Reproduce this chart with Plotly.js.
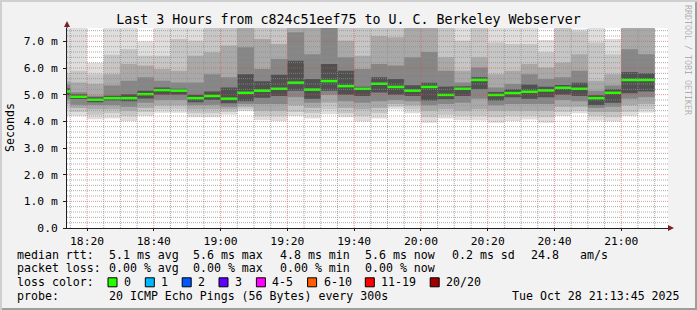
<!DOCTYPE html>
<html><head><meta charset="utf-8">
<script src="https://cdn.plot.ly/plotly-3.0.1.min.js"></script>
<style>html,body{margin:0;padding:0;background:#f2f2f2;}#chart{width:697px;height:310px;}</style>
</head><body><div id="chart"></div>
<script>
// ---------------- data ----------------
const binStarts = ["18:10","18:15","18:20","18:25","18:30","18:35","18:40","18:45","18:50","18:55",
  "19:00","19:05","19:10","19:15","19:20","19:25","19:30","19:35","19:40","19:45",
  "19:50","19:55","20:00","20:05","20:10","20:15","20:20","20:25","20:30","20:35",
  "20:40","20:45","20:50","20:55","21:00","21:05"];
const medianRtt = [5.12,4.92,4.81,4.87,4.87,5.02,5.17,5.15,4.87,4.95,4.85,5.07,5.15,5.22,5.45,5.19,5.51,5.32,
  5.22,5.41,5.29,5.15,5.29,4.99,5.22,5.55,4.99,5.06,5.11,5.16,5.26,5.22,4.87,5.07,5.55,5.55];
// smoke bands, outermost (min..max) to innermost (around the median), ms
const band1Lo = [4.22,4.20,4.08,4.11,4.01,4.20,4.32,4.32,4.15,4.15,4.25,4.39,4.05,4.01,4.20,4.11,4.27,4.15,3.99,4.11,4.45,4.30,3.95,4.11,4.05,4.03,3.95,4.01,4.07,3.95,4.20,4.30,4.03,3.99,4.20,4.33];
const band1Hi = [7.8,7.8,6.2,7.8,7.8,7.0,7.8,7.8,7.8,8.2,8.2,8.4,8.2,8.2,8.6,8.4,8.8,8.2,8.2,8.2,8.2,8.4,8.6,8.2,7.8,8.2,7.8,7.8,7.8,7.05,8.2,7.45,7.8,7.09,8.6,8.6];
const band2Lo = [4.45,4.35,4.25,4.30,4.20,4.35,4.45,4.45,4.30,4.30,4.35,4.45,4.20,4.20,4.35,4.30,4.45,4.30,4.20,4.30,4.55,4.45,4.15,4.25,4.20,4.20,4.15,4.20,4.20,4.15,4.35,4.40,4.20,4.15,4.35,4.45];
const band2Hi = [5.80,5.90,5.77,6.50,6.71,6.46,6.46,7.09,7.02,7.80,7.80,8.10,7.80,7.80,8.20,8.00,8.40,7.80,7.80,7.80,7.80,8.00,8.20,7.80,7.02,7.80,6.96,6.90,6.90,6.59,7.80,7.38,6.96,6.52,8.20,8.20];
const band3Lo = [4.65,4.50,4.45,4.45,4.40,4.50,4.60,4.60,4.45,4.45,4.45,4.55,4.40,4.40,4.60,4.50,4.70,4.50,4.45,4.50,4.65,4.60,4.40,4.45,4.40,4.45,4.40,4.40,4.40,4.40,4.55,4.55,4.35,4.35,4.60,4.65];
const band3Hi = [5.50,5.46,5.40,5.77,6.15,6.09,5.96,5.90,6.46,6.59,6.84,7.80,7.09,6.90,7.80,7.80,8.10,7.02,6.46,7.20,7.15,7.80,7.80,6.40,5.90,6.40,5.77,5.90,6.15,6.02,6.21,6.52,5.52,5.77,7.80,7.80];
const band4Lo = [4.82,4.62,4.62,4.60,4.55,4.70,4.80,4.80,4.60,4.62,4.55,4.65,4.65,4.65,4.90,4.70,5.00,4.75,4.70,4.75,4.80,4.75,4.60,4.65,4.70,4.85,4.60,4.65,4.65,4.65,4.80,4.75,4.50,4.55,4.85,4.90];
const band4Hi = [5.38,5.09,4.96,5.34,5.52,5.65,5.52,5.46,5.46,5.77,5.65,6.78,5.96,6.34,7.34,6.52,7.80,6.40,5.96,6.15,6.09,6.40,6.60,5.90,5.46,6.02,5.27,5.40,5.77,5.59,5.65,5.90,5.15,5.34,6.70,6.52];
const band5Lo = [4.98,4.84,4.72,4.78,4.75,4.86,5.00,5.00,4.72,4.80,4.68,4.75,4.88,4.95,5.15,4.85,5.15,5.00,4.95,5.08,5.00,4.95,4.78,4.83,4.95,5.20,4.78,4.90,4.85,4.90,5.00,4.95,4.60,4.70,5.05,5.12];
const band5Hi = [5.24,5.02,4.90,4.96,5.02,5.15,5.27,5.22,5.00,5.12,5.27,5.77,5.50,5.75,6.27,5.59,6.15,5.90,5.30,5.65,5.59,5.35,5.45,5.30,5.32,5.65,5.10,5.20,5.38,5.30,5.36,5.45,4.98,5.20,5.85,5.80];

const yTickVals = [0,1,2,3,4,5,6,7];
const yTickText = ["0.0","1.0 m","2.0 m","3.0 m","4.0 m","5.0 m","6.0 m","7.0 m"];
const xTickTimes = ["18:20","18:40","19:00","19:20","19:40","20:00","20:20","20:40","21:00"];

const titleText = "Last 3 Hours from c824c51eef75 to U. C. Berkeley Webserver";
const rttLabel = "median rtt:";
const rttStats = ["5.1 ms avg","5.6 ms max","4.8 ms min","5.6 ms now","0.2 ms sd","24.8","am/s"];
const lossLabel = "packet loss:";
const lossStats = ["0.00 % avg","0.00 % max","0.00 % min","0.00 % now"];
const colorLabel = "loss color:";
const lossLabels = ["0","1","2","3","4-5","6-10","11-19","20/20"];
const lossColors = ["#26ff00","#00b8ff","#0059ff","#5e00ff","#ff00ff","#ff5e00","#ff0000","#a10000"];
const probeLabel = "probe:";
const probeText = "20 ICMP Echo Pings (56 Bytes) every 300s";
const stampText = "Tue Oct 28 21:13:45 2025";
const creditText = "RRDTOOL / TOBI OETIKER";

// ---------------- layout helpers ----------------
const W = 697, H = 310, L = 67, R = 29, T = 28, B = 82;
const PW = W - L - R, PH = H - T - B;
const px = v => (v - L) / PW;
const py = v => (H - B - v) / PH;
const FONT = "DejaVu Sans Mono";
const STEP = 5 * 60 * 1000;
const toMs = hm => { const [h, m] = hm.split(':').map(Number); return Date.UTC(2025, 9, 28, h, m); };
const fmt = ms => new Date(ms).toISOString().replace('T', ' ').slice(0, 19);

const starts = binStarts.map(toMs);
const ends = starts.map(s => s + STEP);

function bandTrace(lo, hi, color) {
  const xs = [], ys = [];
  for (let i = 0; i < starts.length; i++) { xs.push(fmt(starts[i]), fmt(ends[i])); ys.push(hi[i], hi[i]); }
  for (let i = starts.length - 1; i >= 0; i--) { xs.push(fmt(ends[i]), fmt(starts[i])); ys.push(lo[i], lo[i]); }
  xs.push(xs[0]); ys.push(ys[0]);
  return {type: 'scatter', mode: 'lines', x: xs, y: ys, fill: 'toself', fillcolor: color,
    line: {width: 0, color: color}, hoverinfo: 'skip', showlegend: false};
}

const traces = [
  bandTrace(band1Lo, band1Hi, '#dedede'),
  bandTrace(band2Lo, band2Hi, '#c6c6c6'),
  bandTrace(band3Lo, band3Hi, '#a9a9a9'),
  bandTrace(band4Lo, band4Hi, '#868686'),
  bandTrace(band5Lo, band5Hi, '#505050')
];
const mx = [], my = [];
for (let i = 0; i < starts.length; i++) { mx.push(fmt(starts[i]), fmt(ends[i]), null); my.push(medianRtt[i], medianRtt[i], null); }
traces.push({type: 'scatter', mode: 'lines', x: mx, y: my, line: {color: lossColors[0], width: 2.5},
  hoverinfo: 'skip', showlegend: false, connectgaps: false});

// ---------------- grid / decorations ----------------
const xStart = toMs("18:14"), xEnd = toMs("21:14");
const shapes = [];
const minorGrid = 'rgba(143,143,143,0.75)', majorGrid = 'rgba(222,79,79,0.6)';
const majorMs = xTickTimes.map(toMs);
for (let t = toMs("18:15"); t < xEnd; t += STEP) {
  const major = majorMs.includes(t);
  shapes.push({type: 'line', xref: 'x', yref: 'paper', x0: fmt(t), x1: fmt(t), y0: 0, y1: 1, layer: 'above',
    line: {color: major ? majorGrid : minorGrid, width: 1, dash: '1px,1px'}});
}
for (let k = 1; k < 38; k++) {
  const v = k * 0.2;
  const major = (k % 5 === 0);
  shapes.push({type: 'line', xref: 'paper', yref: 'y', x0: 0, x1: 1, y0: v, y1: v, layer: 'above',
    line: {color: major ? majorGrid : minorGrid, width: 1, dash: '1px,1px'}});
}
// arrows and axis extensions
shapes.push({type: 'line', xref: 'paper', yref: 'paper', x0: 0, x1: 0, y0: 1, y1: py(25), layer: 'above', line: {color: '#1f1f1f', width: 1}});
shapes.push({type: 'path', xref: 'paper', yref: 'paper', layer: 'above', fillcolor: '#801f1f', line: {width: 0},
  path: `M ${px(64)} ${py(27)} L ${px(70)} ${py(27)} L ${px(67)} ${py(21)} Z`});
shapes.push({type: 'line', xref: 'paper', yref: 'paper', x0: 1, x1: px(670), y0: 0, y1: 0, layer: 'above', line: {color: '#1f1f1f', width: 1}});
shapes.push({type: 'path', xref: 'paper', yref: 'paper', layer: 'above', fillcolor: '#801f1f', line: {width: 0},
  path: `M ${px(668)} ${py(225)} L ${px(668)} ${py(231)} L ${px(674)} ${py(228)} Z`});
// outer shading frame
shapes.push({type: 'rect', xref: 'paper', yref: 'paper', x0: px(0), x1: px(W), y0: py(0), y1: py(2), fillcolor: '#cfcfcf', line: {width: 0}, layer: 'below'});
shapes.push({type: 'rect', xref: 'paper', yref: 'paper', x0: px(0), x1: px(2), y0: py(0), y1: py(H), fillcolor: '#cfcfcf', line: {width: 0}, layer: 'below'});
shapes.push({type: 'rect', xref: 'paper', yref: 'paper', x0: px(2), x1: px(W), y0: py(H - 2), y1: py(H), fillcolor: '#9e9e9e', line: {width: 0}, layer: 'below'});
shapes.push({type: 'rect', xref: 'paper', yref: 'paper', x0: px(W - 2), x1: px(W), y0: py(2), y1: py(H), fillcolor: '#9e9e9e', line: {width: 0}, layer: 'below'});

// ---------------- legend text ----------------
const annotations = [];
const txt = (text, x, y, anchor, extra) => annotations.push(Object.assign({
  text: text, xref: 'paper', yref: 'paper', x: px(x), y: py(y), xanchor: anchor || 'left', yanchor: 'middle',
  showarrow: false, borderpad: 0, font: {family: FONT, size: 11.6, color: '#000'}}, extra || {}));
const rowY = [254.5, 268.3, 282.3, 296.2];
const labelX = 15.6;
const statX = [107.6, 192.4, 279, 364.4, 451, 530, 579];
txt(rttLabel, labelX, rowY[0]);
rttStats.forEach((s, i) => txt(s, statX[i], rowY[0]));
txt(lossLabel, labelX, rowY[1]);
lossStats.forEach((s, i) => txt(s, statX[i], rowY[1]));
txt(colorLabel, labelX, rowY[2]);
const boxX = [108, 145.3, 182.2, 219, 256.4, 307.6, 365.3, 430.2];
lossLabels.forEach((s, i) => {
  shapes.push({type: 'rect', xref: 'paper', yref: 'paper', x0: px(boxX[i]), x1: px(boxX[i] + 9),
    y0: py(rowY[2] - 4.5), y1: py(rowY[2] + 4.5), fillcolor: lossColors[i], line: {color: '#000', width: 1}, layer: 'above'});
  txt(s, boxX[i] + 15, rowY[2]);
});
txt(probeLabel, labelX, rowY[3]);
txt(probeText, statX[0], rowY[3]);
txt(stampText, 681, rowY[3], 'right');
txt("Seconds", 10, 128, 'center', {textangle: -90});
txt(creditText, 688, 60, 'center', {textangle: 90, font: {family: FONT, size: 8.3, color: 'rgba(0,0,0,0.3)'}});

const layout = {
  width: W, height: H,
  margin: {l: L, r: R, t: T, b: B, pad: 0},
  paper_bgcolor: '#f2f2f2', plot_bgcolor: '#ffffff',
  showlegend: false,
  title: {text: titleText, font: {family: FONT, size: 13.3, color: '#000'}, x: 0.5, xref: 'container',
    y: 1 - 19 / H, yref: 'container', xanchor: 'center', yanchor: 'middle'},
  xaxis: {type: 'date', range: [fmt(xStart), fmt(xEnd)], showgrid: false, zeroline: false,
    showline: true, linecolor: '#1f1f1f', linewidth: 1, layer: 'above traces',
    tickmode: 'array', tickvals: xTickTimes.map(t => fmt(toMs(t))), ticktext: xTickTimes,
    ticks: 'outside', ticklen: 2, tickcolor: '#1f1f1f',
    tickfont: {family: FONT, size: 11.3, color: '#000'}, fixedrange: true},
  yaxis: {range: [0, 7.5], showgrid: false, zeroline: false, showline: true, linecolor: '#1f1f1f', linewidth: 1,
    layer: 'above traces', tickmode: 'array', tickvals: yTickVals, ticktext: yTickText,
    ticks: 'outside', ticklen: 3, tickcolor: '#1f1f1f', ticklabelstandoff: 3,
    tickfont: {family: FONT, size: 11.3, color: '#000'}, fixedrange: true},
  shapes: shapes,
  annotations: annotations
};

Plotly.newPlot('chart', traces, layout, {displayModeBar: false, staticPlot: true});
</script>
</body></html>
